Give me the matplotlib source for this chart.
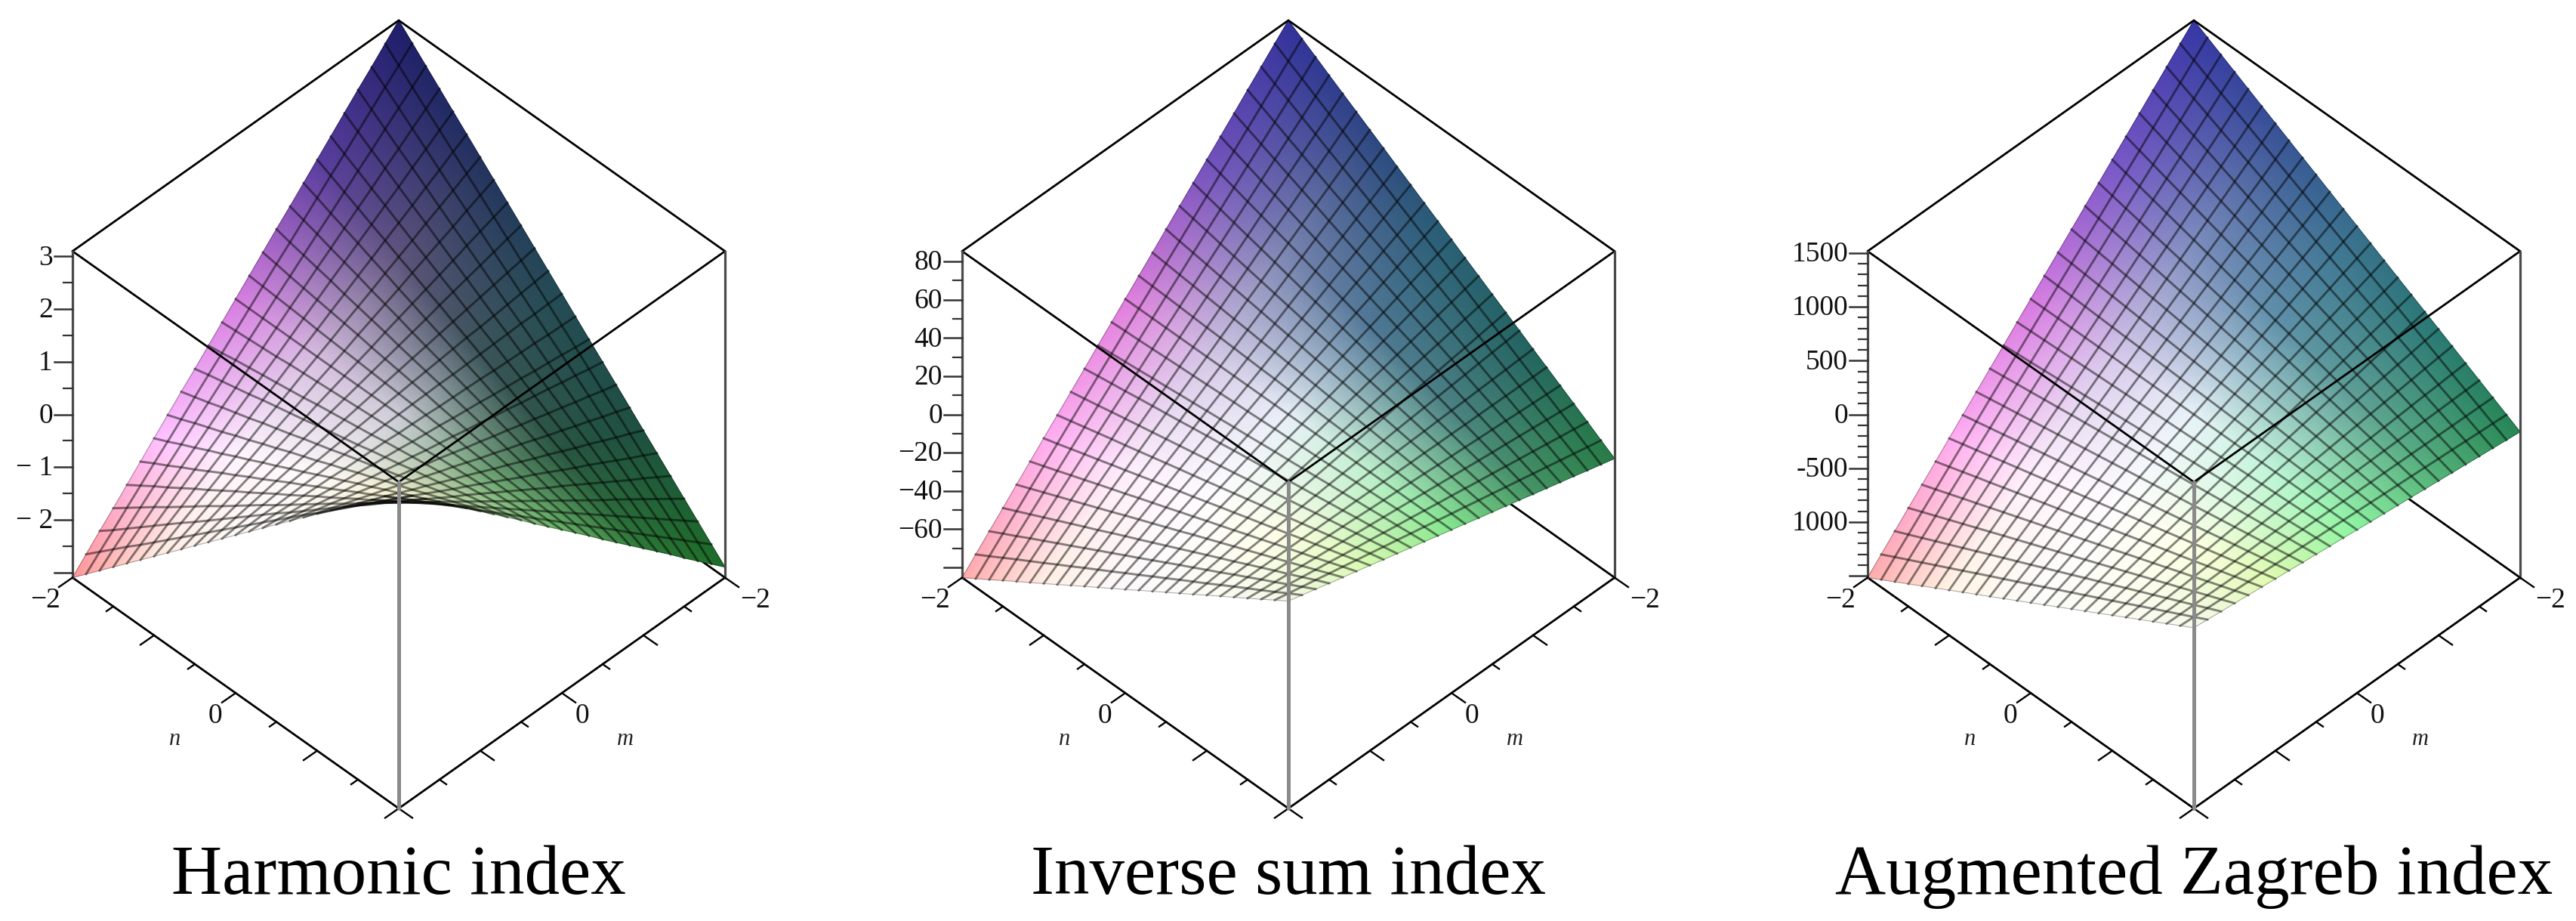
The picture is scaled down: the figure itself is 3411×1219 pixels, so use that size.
import numpy as np
import matplotlib
matplotlib.use("Agg")
import matplotlib.pyplot as plt

# n and m run over the same grid in all three plots
grid_n = np.linspace(-2, 2, 25)
grid_m = np.linspace(-2, 2, 25)

# surface heights, one row per n, one column per m
harmonic_z = [
[3.10,2.84,2.58,2.33,2.07,1.81,1.55,1.29,1.03,.78,.52,.26,0,-.26,-.52,-.78,-1.03,-1.29,-1.55,-1.81,-2.07,-2.33,-2.58,-2.84,-3.10],
[2.85,2.61,2.38,2.14,1.90,1.66,1.43,1.19,.95,.71,.48,.24,0,-.24,-.48,-.71,-.95,-1.19,-1.43,-1.66,-1.90,-2.14,-2.38,-2.61,-2.85],
[2.60,2.38,2.17,1.95,1.73,1.52,1.30,1.08,.87,.65,.43,.22,0,-.22,-.43,-.65,-.87,-1.08,-1.30,-1.52,-1.73,-1.95,-2.17,-2.38,-2.60],
[2.35,2.15,1.96,1.76,1.57,1.37,1.18,.98,.78,.59,.39,.20,0,-.20,-.39,-.59,-.78,-.98,-1.18,-1.37,-1.57,-1.76,-1.96,-2.15,-2.35],
[2.10,1.93,1.75,1.58,1.40,1.23,1.05,.88,.70,.53,.35,.18,0,-.18,-.35,-.53,-.70,-.88,-1.05,-1.23,-1.40,-1.58,-1.75,-1.93,-2.10],
[1.85,1.70,1.54,1.39,1.23,1.08,.93,.77,.62,.46,.31,.15,0,-.15,-.31,-.46,-.62,-.77,-.93,-1.08,-1.23,-1.39,-1.54,-1.70,-1.85],
[1.60,1.47,1.33,1.20,1.07,.93,.80,.67,.53,.40,.27,.13,0,-.13,-.27,-.40,-.53,-.67,-.80,-.93,-1.07,-1.20,-1.33,-1.47,-1.60],
[1.35,1.24,1.13,1.01,.90,.79,.68,.56,.45,.34,.23,.11,0,-.11,-.23,-.34,-.45,-.56,-.68,-.79,-.90,-1.01,-1.13,-1.24,-1.35],
[1.10,1.01,.92,.83,.73,.64,.55,.46,.37,.28,.18,.09,0,-.09,-.18,-.28,-.37,-.46,-.55,-.64,-.73,-.83,-.92,-1.01,-1.10],
[.85,.78,.71,.64,.57,.50,.43,.35,.28,.21,.14,.07,0,-.07,-.14,-.21,-.28,-.35,-.43,-.50,-.57,-.64,-.71,-.78,-.85],
[.60,.55,.50,.45,.40,.35,.30,.25,.20,.15,.10,.05,0,-.05,-.10,-.15,-.20,-.25,-.30,-.35,-.40,-.45,-.50,-.55,-.60],
[.35,.32,.29,.26,.23,.20,.18,.15,.12,.09,.06,.03,0,-.03,-.06,-.09,-.12,-.15,-.18,-.20,-.23,-.26,-.29,-.32,-.35],
[.10,.09,.08,.08,.07,.06,.05,.04,.03,.03,.02,.01,0,-.01,-.02,-.03,-.03,-.04,-.05,-.06,-.07,-.08,-.08,-.09,-.10],
[-.15,-.14,-.13,-.11,-.10,-.09,-.08,-.06,-.05,-.04,-.03,-.01,0,.01,.03,.04,.05,.06,.08,.09,.10,.11,.13,.14,.15],
[-.40,-.37,-.33,-.30,-.27,-.23,-.20,-.17,-.13,-.10,-.07,-.03,0,.03,.07,.10,.13,.17,.20,.23,.27,.30,.33,.37,.40],
[-.65,-.60,-.54,-.49,-.43,-.38,-.33,-.27,-.22,-.16,-.11,-.05,0,.05,.11,.16,.22,.27,.33,.38,.43,.49,.54,.60,.65],
[-.90,-.83,-.75,-.68,-.60,-.53,-.45,-.38,-.30,-.23,-.15,-.08,0,.08,.15,.23,.30,.38,.45,.53,.60,.68,.75,.83,.90],
[-1.15,-1.05,-.96,-.86,-.77,-.67,-.58,-.48,-.38,-.29,-.19,-.10,0,.10,.19,.29,.38,.48,.58,.67,.77,.86,.96,1.05,1.15],
[-1.40,-1.28,-1.17,-1.05,-.93,-.82,-.70,-.58,-.47,-.35,-.23,-.12,0,.12,.23,.35,.47,.58,.70,.82,.93,1.05,1.17,1.28,1.40],
[-1.65,-1.51,-1.38,-1.24,-1.10,-.96,-.83,-.69,-.55,-.41,-.28,-.14,0,.14,.28,.41,.55,.69,.83,.96,1.10,1.24,1.38,1.51,1.65],
[-1.90,-1.74,-1.58,-1.43,-1.27,-1.11,-.95,-.79,-.63,-.48,-.32,-.16,0,.16,.32,.48,.63,.79,.95,1.11,1.27,1.43,1.58,1.74,1.90],
[-2.15,-1.97,-1.79,-1.61,-1.43,-1.25,-1.08,-.90,-.72,-.54,-.36,-.18,0,.18,.36,.54,.72,.90,1.08,1.25,1.43,1.61,1.79,1.97,2.15],
[-2.40,-2.20,-2.00,-1.80,-1.60,-1.40,-1.20,-1.00,-.80,-.60,-.40,-.20,0,.20,.40,.60,.80,1.00,1.20,1.40,1.60,1.80,2.00,2.20,2.40],
[-2.65,-2.43,-2.21,-1.99,-1.77,-1.55,-1.33,-1.10,-.88,-.66,-.44,-.22,0,.22,.44,.66,.88,1.10,1.33,1.55,1.77,1.99,2.21,2.43,2.65],
[-2.90,-2.66,-2.42,-2.18,-1.93,-1.69,-1.45,-1.21,-.97,-.73,-.48,-.24,0,.24,.48,.73,.97,1.21,1.45,1.69,1.93,2.18,2.42,2.66,2.90],
]

inverse_sum_z = [
[85.4,78.3,71.2,64.1,56.9,49.8,42.7,35.6,28.5,21.4,14.2,7.1,0,-7.1,-14.2,-21.4,-28.5,-35.6,-42.7,-49.8,-56.9,-64.1,-71.2,-78.3,-85.4],
[80.9,74.2,67.4,60.7,53.9,47.2,40.5,33.7,27.0,20.2,13.5,6.7,0,-6.7,-13.5,-20.2,-27.0,-33.7,-40.5,-47.2,-53.9,-60.7,-67.4,-74.2,-80.9],
[76.4,70.0,63.7,57.3,50.9,44.6,38.2,31.8,25.5,19.1,12.7,6.4,0,-6.4,-12.7,-19.1,-25.5,-31.8,-38.2,-44.6,-50.9,-57.3,-63.7,-70.0,-76.4],
[71.8,65.8,59.8,53.9,47.9,41.9,35.9,29.9,23.9,18.0,12.0,6.0,0,-6.0,-12.0,-18.0,-23.9,-29.9,-35.9,-41.9,-47.9,-53.9,-59.8,-65.8,-71.8],
[67.3,61.7,56.1,50.5,44.9,39.3,33.7,28.0,22.4,16.8,11.2,5.6,0,-5.6,-11.2,-16.8,-22.4,-28.0,-33.7,-39.3,-44.9,-50.5,-56.1,-61.7,-67.3],
[62.8,57.6,52.3,47.1,41.9,36.6,31.4,26.2,20.9,15.7,10.5,5.2,0,-5.2,-10.5,-15.7,-20.9,-26.2,-31.4,-36.6,-41.9,-47.1,-52.3,-57.6,-62.8],
[58.3,53.4,48.6,43.7,38.9,34.0,29.2,24.3,19.4,14.6,9.7,4.9,0,-4.9,-9.7,-14.6,-19.4,-24.3,-29.2,-34.0,-38.9,-43.7,-48.6,-53.4,-58.3],
[53.8,49.3,44.8,40.4,35.9,31.4,26.9,22.4,17.9,13.5,9.0,4.5,0,-4.5,-9.0,-13.5,-17.9,-22.4,-26.9,-31.4,-35.9,-40.4,-44.8,-49.3,-53.8],
[49.2,45.1,41.0,36.9,32.8,28.7,24.6,20.5,16.4,12.3,8.2,4.1,0,-4.1,-8.2,-12.3,-16.4,-20.5,-24.6,-28.7,-32.8,-36.9,-41.0,-45.1,-49.2],
[44.7,41.0,37.3,33.5,29.8,26.1,22.4,18.6,14.9,11.2,7.5,3.7,0,-3.7,-7.5,-11.2,-14.9,-18.6,-22.4,-26.1,-29.8,-33.5,-37.3,-41.0,-44.7],
[40.2,36.9,33.5,30.2,26.8,23.5,20.1,16.8,13.4,10.1,6.7,3.4,0,-3.4,-6.7,-10.1,-13.4,-16.8,-20.1,-23.5,-26.8,-30.2,-33.5,-36.9,-40.2],
[35.7,32.7,29.8,26.8,23.8,20.8,17.9,14.9,11.9,8.9,6.0,3.0,0,-3.0,-6.0,-8.9,-11.9,-14.9,-17.9,-20.8,-23.8,-26.8,-29.8,-32.7,-35.7],
[31.2,28.6,26.0,23.4,20.8,18.2,15.6,13.0,10.4,7.8,5.2,2.6,0,-2.6,-5.2,-7.8,-10.4,-13.0,-15.6,-18.2,-20.8,-23.4,-26.0,-28.6,-31.2],
[26.6,24.4,22.2,20.0,17.7,15.5,13.3,11.1,8.9,6.7,4.4,2.2,0,-2.2,-4.4,-6.7,-8.9,-11.1,-13.3,-15.5,-17.7,-20.0,-22.2,-24.4,-26.6],
[22.1,20.3,18.4,16.6,14.7,12.9,11.1,9.2,7.4,5.5,3.7,1.8,0,-1.8,-3.7,-5.5,-7.4,-9.2,-11.1,-12.9,-14.7,-16.6,-18.4,-20.3,-22.1],
[17.6,16.1,14.7,13.2,11.7,10.3,8.8,7.3,5.9,4.4,2.9,1.5,0,-1.5,-2.9,-4.4,-5.9,-7.3,-8.8,-10.3,-11.7,-13.2,-14.7,-16.1,-17.6],
[13.1,12.0,10.9,9.8,8.7,7.6,6.6,5.5,4.4,3.3,2.2,1.1,0,-1.1,-2.2,-3.3,-4.4,-5.5,-6.6,-7.6,-8.7,-9.8,-10.9,-12.0,-13.1],
[8.6,7.9,7.2,6.5,5.7,5.0,4.3,3.6,2.9,2.2,1.4,.7,0,-.7,-1.4,-2.2,-2.9,-3.6,-4.3,-5.0,-5.7,-6.5,-7.2,-7.9,-8.6],
[4.0,3.7,3.3,3.0,2.7,2.3,2.0,1.7,1.3,1.0,.7,.3,0,-.3,-.7,-1.0,-1.3,-1.7,-2.0,-2.3,-2.7,-3.0,-3.3,-3.7,-4.0],
[-.5,-.5,-.4,-.4,-.3,-.3,-.3,-.2,-.2,-.1,-.1,0,0,0,.1,.1,.2,.2,.3,.3,.3,.4,.4,.5,.5],
[-5.0,-4.6,-4.2,-3.8,-3.3,-2.9,-2.5,-2.1,-1.7,-1.3,-.8,-.4,0,.4,.8,1.3,1.7,2.1,2.5,2.9,3.3,3.8,4.2,4.6,5.0],
[-9.5,-8.7,-7.9,-7.1,-6.3,-5.5,-4.8,-4.0,-3.2,-2.4,-1.6,-.8,0,.8,1.6,2.4,3.2,4.0,4.8,5.5,6.3,7.1,7.9,8.7,9.5],
[-14.0,-12.8,-11.7,-10.5,-9.3,-8.2,-7.0,-5.8,-4.7,-3.5,-2.3,-1.2,0,1.2,2.3,3.5,4.7,5.8,7.0,8.2,9.3,10.5,11.7,12.8,14.0],
[-18.6,-17.1,-15.5,-14.0,-12.4,-10.9,-9.3,-7.8,-6.2,-4.7,-3.1,-1.6,0,1.6,3.1,4.7,6.2,7.8,9.3,10.9,12.4,14.0,15.5,17.1,18.6],
[-23.1,-21.2,-19.3,-17.3,-15.4,-13.5,-11.6,-9.6,-7.7,-5.8,-3.9,-1.9,0,1.9,3.9,5.8,7.7,9.6,11.6,13.5,15.4,17.3,19.3,21.2,23.1],
]

zagreb_z = [
[1517,1391,1264,1138,1011,885,759,632,506,379,253,126,0,-126,-253,-379,-506,-632,-759,-885,-1011,-1138,-1264,-1391,-1517],
[1447,1326,1206,1085,965,844,724,603,482,362,241,121,0,-121,-241,-362,-482,-603,-724,-844,-965,-1085,-1206,-1326,-1447],
[1377,1262,1148,1033,918,803,689,574,459,344,230,115,0,-115,-230,-344,-459,-574,-689,-803,-918,-1033,-1148,-1262,-1377],
[1307,1198,1089,980,871,762,654,545,436,327,218,109,0,-109,-218,-327,-436,-545,-654,-762,-871,-980,-1089,-1198,-1307],
[1237,1134,1031,928,825,722,619,515,412,309,206,103,0,-103,-206,-309,-412,-515,-619,-722,-825,-928,-1031,-1134,-1237],
[1167,1070,973,875,778,681,584,486,389,292,195,97,0,-97,-195,-292,-389,-486,-584,-681,-778,-875,-973,-1070,-1167],
[1097,1006,914,823,731,640,549,457,366,274,183,91,0,-91,-183,-274,-366,-457,-549,-640,-731,-823,-914,-1006,-1097],
[1027,941,856,770,685,599,514,428,342,257,171,86,0,-86,-171,-257,-342,-428,-514,-599,-685,-770,-856,-941,-1027],
[957,877,798,718,638,558,479,399,319,239,160,80,0,-80,-160,-239,-319,-399,-479,-558,-638,-718,-798,-877,-957],
[888,814,740,666,592,518,444,370,296,222,148,74,0,-74,-148,-222,-296,-370,-444,-518,-592,-666,-740,-814,-888],
[818,750,682,614,545,477,409,341,273,205,136,68,0,-68,-136,-205,-273,-341,-409,-477,-545,-614,-682,-750,-818],
[748,686,623,561,499,436,374,312,249,187,125,62,0,-62,-125,-187,-249,-312,-374,-436,-499,-561,-623,-686,-748],
[678,622,565,509,452,396,339,283,226,170,113,57,0,-57,-113,-170,-226,-283,-339,-396,-452,-509,-565,-622,-678],
[608,557,507,456,405,355,304,253,203,152,101,51,0,-51,-101,-152,-203,-253,-304,-355,-405,-456,-507,-557,-608],
[538,493,448,404,359,314,269,224,179,135,90,45,0,-45,-90,-135,-179,-224,-269,-314,-359,-404,-448,-493,-538],
[468,429,390,351,312,273,234,195,156,117,78,39,0,-39,-78,-117,-156,-195,-234,-273,-312,-351,-390,-429,-468],
[398,365,332,299,265,232,199,166,133,100,66,33,0,-33,-66,-100,-133,-166,-199,-232,-265,-299,-332,-365,-398],
[328,301,273,246,219,191,164,137,109,82,55,27,0,-27,-55,-82,-109,-137,-164,-191,-219,-246,-273,-301,-328],
[258,237,215,194,172,151,129,108,86,65,43,22,0,-22,-43,-65,-86,-108,-129,-151,-172,-194,-215,-237,-258],
[188,172,157,141,125,110,94,78,63,47,31,16,0,-16,-31,-47,-63,-78,-94,-110,-125,-141,-157,-172,-188],
[118,108,98,89,79,69,59,49,39,30,20,10,0,-10,-20,-30,-39,-49,-59,-69,-79,-89,-98,-108,-118],
[48,44,40,36,32,28,24,20,16,12,8,4,0,-4,-8,-12,-16,-20,-24,-28,-32,-36,-40,-44,-48],
[-22,-20,-18,-17,-15,-13,-11,-9,-7,-6,-4,-2,0,2,4,6,7,9,11,13,15,17,18,20,22],
[-92,-84,-77,-69,-61,-54,-46,-38,-31,-23,-15,-8,0,8,15,23,31,38,46,54,61,69,77,84,92],
[-162,-149,-135,-122,-108,-95,-81,-68,-54,-41,-27,-14,0,14,27,41,54,68,81,95,108,122,135,149,162],
]

titles = ["Harmonic index", "Inverse sum index", "Augmented Zagreb index"]
z_limits = [(-3.1, 3.1), (-85.4, 85.4), (-1517, 1517)]

# z axis ticks, labelled ones and the plain ones in between
z_major = [[3, 2, 1, 0, -1, -2, -3],
           [80, 60, 40, 20, 0, -20, -40, -60, -80],
           [1500, 1000, 500, 0, -500, -1000, -1500]]
z_labels = [["3", "2", "1", "0", "\u2212 1", "\u2212 2", ""],
            ["80", "60", "40", "20", "0", "\u221220", "\u221240", "\u221260", ""],
            ["1500", "1000", "500", "0", "-500", "1000", ""]]
z_minor = [[2.5, 1.5, .5, -.5, -1.5, -2.5],
           [70, 50, 30, 10, -10, -30, -50, -70],
           [1400, 1300, 1200, 1100, 900, 800, 700, 600, 400, 300, 200, 100,
            -100, -200, -300, -400, -600, -700, -800, -900,
            -1100, -1200, -1300, -1400]]
nm_major = [-2, -1, 0, 1, 2]
nm_minor = [-1.5, -.5, .5, 1.5]

# colours seen on the surface, at n and m = -2, -1, 0, 1, 2 (rows n, columns m)
colors_1 = [
[(30,30,105),(90,60,160),(215,125,225),(255,190,255),(255,150,150)],
[(35,50,95),(95,85,125),(215,190,225),(255,245,255),(255,235,225)],
[(35,75,85),(60,85,90),(205,205,215),(255,250,250),(252,250,248)],
[(30,80,65),(40,85,65),(115,165,120),(245,240,205),(245,240,232)],
[(30,110,40),(45,120,55),(105,180,105),(175,220,160),(240,230,205)],
]
colors_2 = [
[(50,50,155),(115,80,190),(225,125,220),(255,170,240),(255,170,170)],
[(45,70,130),(120,130,175),(212,198,230),(255,238,253),(255,240,228)],
[(40,95,115),(80,120,150),(232,240,248),(255,253,255),(252,250,252)],
[(35,100,95),(75,130,130),(190,240,205),(253,253,228),(252,252,245)],
[(40,125,70),(70,150,100),(130,230,140),(215,250,175),(245,245,232)],
]
colors_3 = [
[(55,55,165),(120,85,200),(215,120,225),(255,170,240),(255,170,170)],
[(55,80,150),(125,140,190),(215,200,235),(255,240,253),(255,245,228)],
[(55,110,140),(95,145,170),(232,243,248),(255,253,255),(252,252,250)],
[(40,120,115),(95,160,150),(190,245,215),(253,255,228),(252,252,242)],
[(40,135,85),(85,180,120),(140,245,160),(222,250,175),(248,248,238)],
]

# page layout, all in pixels of the 3411x1219 picture
centers = [528, 1706, 2905]
HALF_W = 432
FAR_Y = 459
DEPTH = 305.5
BOX_H = 432

plt.rcParams['font.family'] = ['Liberation Serif', 'DejaVu Serif']

fig = plt.figure(figsize=(34.11, 12.19), dpi=100)
ax = fig.add_axes([0, 0, 1, 1])
ax.set_xlim(0, 3411)
ax.set_ylim(1219, 0)
ax.axis('off')


def project(n, m, z, cx, zlim):
    u = (np.asarray(n, float) + 2) / 4
    v = (np.asarray(m, float) + 2) / 4
    x = cx + HALF_W * (u - v)
    y = FAR_Y + DEPTH * (u + v) - BOX_H * (np.asarray(z, float) - zlim[0]) / (zlim[1] - zlim[0])
    return x, y


def spread_colors(anchor):
    # fill the 25 x 25 node colours from the 5 x 5 colours read above
    anchor = np.array(anchor, float) / 255
    at = np.linspace(-2, 2, 5)
    out = np.zeros((25, 25, 3))
    for c in range(3):
        cols = np.array([np.interp(grid_m, at, anchor[i, :, c]) for i in range(5)])
        for j in range(25):
            out[:, j, c] = np.interp(grid_n, at, cols[:, j])
    return out


surfaces = [harmonic_z, inverse_sum_z, zagreb_z]
palettes = [colors_1, colors_2, colors_3]

for k in range(3):
    cx = centers[k]
    zlim = z_limits[k]
    zmin, zmax = zlim
    z = np.array(surfaces[k], float)
    N, M = np.meshgrid(grid_n, grid_m, indexing='ij')
    X, Y = project(N, M, z, cx, zlim)

    def edge(a, b, **kw):
        xa, ya = project(a[0], a[1], a[2], cx, zlim)
        xb, yb = project(b[0], b[1], b[2], cx, zlim)
        ax.plot([xa, xb], [ya, yb], solid_capstyle='round', **kw)

    # back edges of the floor stay behind the surface
    black = dict(color='black', lw=2.0)
    edge((2, -2, zmin), (-2, -2, zmin), zorder=1, **black)
    edge((-2, 2, zmin), (-2, -2, zmin), zorder=1, **black)

    ax.pcolormesh(X, Y, spread_colors(palettes[k]), shading='gouraud', zorder=2)

    # wire grid, the outer lines are much fainter
    for i in range(25):
        if i in (0, 24):
            ax.plot(X[i, :], Y[i, :], color='black', lw=.8, alpha=.3, zorder=3)
            ax.plot(X[:, i], Y[:, i], color='black', lw=.8, alpha=.3, zorder=3)
        else:
            ax.plot(X[i, :], Y[i, :], color='black', lw=2.1, alpha=.48, zorder=3)
            ax.plot(X[:, i], Y[:, i], color='black', lw=2.1, alpha=.48, zorder=3)

    # top of the box and the floor edges in front
    edge((-2, -2, zmax), (-2, 2, zmax), zorder=4, **black)
    edge((-2, -2, zmax), (2, -2, zmax), zorder=4, **black)
    edge((-2, 2, zmax), (2, 2, zmax), zorder=4, **black)
    edge((2, -2, zmax), (2, 2, zmax), zorder=4, **black)
    edge((-2, 2, zmin), (2, 2, zmin), zorder=4, **black)
    edge((2, -2, zmin), (2, 2, zmin), zorder=4, **black)
    edge((-2, 2, zmin), (-2, 2, zmax), zorder=4, color='#4a4a4a', lw=2.3)
    edge((2, -2, zmin), (2, -2, zmax), zorder=4, color='#4a4a4a', lw=2.3)
    edge((2, 2, zmin), (2, 2, zmax), zorder=5, color='#8a8a8a', lw=3.6)

    # z ticks on the left upright
    xl, _ = project(-2, 2, zmin, cx, zlim)
    for val, lab in zip(z_major[k], z_labels[k]):
        _, yt = project(-2, 2, val, cx, zlim)
        ax.plot([xl - 24, xl], [yt, yt], color='#333333', lw=1.8, zorder=4)
        if lab:
            ax.text(xl - 26, yt + 2, lab, ha='right', va='center', fontsize=27, color='#111111')
    for val in z_minor[k]:
        _, yt = project(-2, 2, val, cx, zlim)
        ax.plot([xl - 12, xl], [yt, yt], color='#333333', lw=1.6, zorder=4)

    # n and m ticks on the two front floor edges
    for val in nm_major + nm_minor:
        size = 1.0 if val in nm_major else .5
        xt, yt = project(val, 2, zmin, cx, zlim)
        ax.plot([xt, xt - 18 * size], [yt, yt + 12.5 * size], color='black', lw=1.7, zorder=4)
        xt, yt = project(2, val, zmin, cx, zlim)
        ax.plot([xt, xt + 18 * size], [yt, yt + 12.5 * size], color='black', lw=1.7, zorder=4)

    ax.text(cx - 468, 795, "\u22122", ha='center', va='center', fontsize=27, color='#111111')
    ax.text(cx + 472, 795, "\u22122", ha='center', va='center', fontsize=27, color='#111111')
    ax.text(cx - 243, 948, "0", ha='center', va='center', fontsize=27, color='#111111')
    ax.text(cx + 243, 948, "0", ha='center', va='center', fontsize=27, color='#111111')
    ax.text(cx - 296, 979, "n", ha='center', va='center', fontsize=22, style='italic', color='#222222')
    ax.text(cx + 300, 979, "m", ha='center', va='center', fontsize=22, style='italic', color='#222222')

    ax.text(cx, 1183, titles[k], ha='center', va='baseline', fontsize=67, color='black')

fig.savefig("out.png", dpi=100, facecolor='white')
